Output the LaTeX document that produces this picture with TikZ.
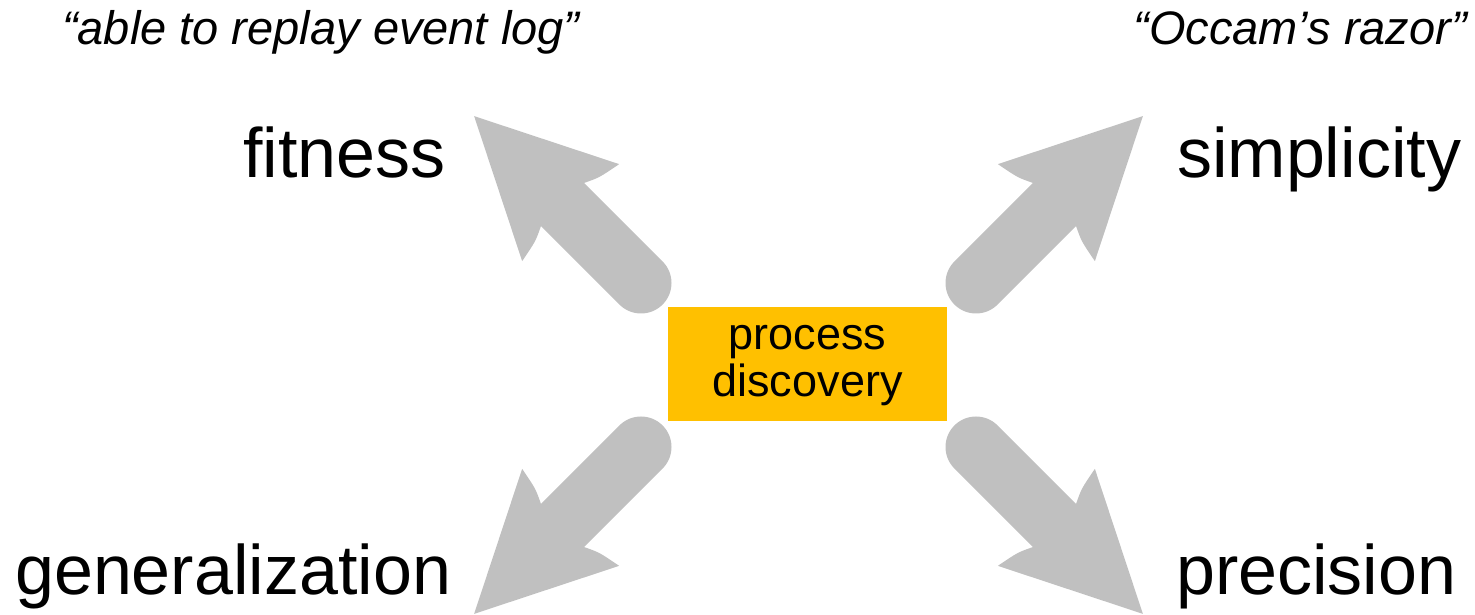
\documentclass[tikz,border=0pt]{standalone}
\usepackage{fontspec}
\setmainfont{Liberation Sans}
\definecolor{boxgold}{RGB}{255,192,0}
\definecolor{arrowgray}{RGB}{192,192,192}
\tikzset{
  big/.style={font=\fontsize{70}{80}\selectfont, inner sep=0pt},
  quote/.style={font=\itshape\fontsize{47}{54}\selectfont, inner sep=0pt},
  core/.style={fill=boxgold, minimum width=279pt, minimum height=114pt, inner sep=0pt},
  coretext/.style={align=center, font=\fontsize{45}{47}\selectfont, inner sep=0pt},
  blockarrow/.style={fill=arrowgray, draw=none}
}
\newcommand{\blockarrowshape}{%
  (0,-30.5) -- (111,-30.5) .. controls (104,-45) .. (99.5,-68.6) -- (236,0)
  -- (99.5,68.6) .. controls (104,45) .. (111,30.5) -- (0,30.5)
  arc[start angle=90, end angle=270, radius=30.5] -- cycle}
\begin{document}
\begin{tikzpicture}[x=1pt,y=1pt]
\useasboundingbox (0,0) rectangle (1475,615);
\coordinate (tl) at (641,332);
\coordinate (tr) at (976,332);
\coordinate (bl) at (641,168);
\coordinate (br) at (976,168);
\begin{scope}[shift={(tl)}, rotate=135]
  \fill[blockarrow] \blockarrowshape;
\end{scope}
\begin{scope}[shift={(tr)}, rotate=45]
  \fill[blockarrow] \blockarrowshape;
\end{scope}
\begin{scope}[shift={(bl)}, rotate=225]
  \fill[blockarrow] \blockarrowshape;
\end{scope}
\begin{scope}[shift={(br)}, rotate=315]
  \fill[blockarrow] \blockarrowshape;
\end{scope}
\node[core] (pd) at (807.5,251) {};
\node[coretext, anchor=base] (pdt1) at (807.5,265) {process};
\node[coretext, anchor=base] (pdt2) at (807.5,218) {discovery};
\node[big, anchor=base east] (fit) at (446,437) {fitness};
\node[big, anchor=base west] (sim) at (1177,437) {simplicity};
\node[big, anchor=base west] (gen) at (15,20) {generalization};
\node[big, anchor=base west] (pre) at (1176,20) {precision};
\node[quote, anchor=base west] (q1) at (62,570) {“able to replay event log”};
\node[quote, anchor=base east] (q2) at (1467,570) {“Occam’s razor”};
\end{tikzpicture}
\end{document}
